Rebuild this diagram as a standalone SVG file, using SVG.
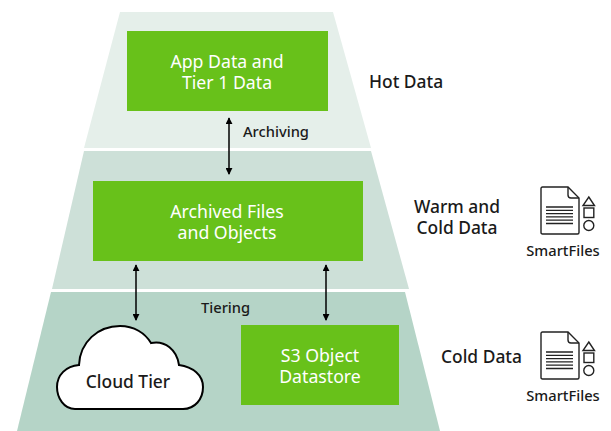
<svg xmlns="http://www.w3.org/2000/svg" width="611" height="431" viewBox="0 0 611 431">
<style>
text{font-family:"Noto Sans","Open Sans","Liberation Sans",sans-serif;fill:#1a1a1a;font-weight:500}
.b{font-size:17.400px}
.w{fill:#fff;font-size:17.700px;font-weight:400;text-anchor:middle}
.g{fill:#68c11a}
.s{font-size:14.700px}
.c{stroke:#000;stroke-width:1.5;fill:none;marker-start:url(#a);marker-end:url(#a)}
.i{fill:none;stroke:#222;stroke-width:1.4}
</style>
<defs>
<marker id="a" viewBox="0 0 8 8" refX="7" refY="4" markerWidth="7" markerHeight="7" markerUnits="userSpaceOnUse" orient="auto-start-reverse"><path d="M0 0L8 4L0 8Z" fill="#000"/></marker>
<g id="sf">
<path class="i" d="M0 1.500Q0 0 1.500 0H27L38 11V45.500Q38 47 36.500 47H1.500Q0 47 0 45.500Z"/>
<path class="i" d="M27 0V8Q27 11 30 11H38"/>
<path d="M5 20H32M5 23.300H32M5 26.600H32M5 29.900H32M5 33.200H32M5 36.500H32" stroke="#222" stroke-width="1.300" fill="none"/>
<path class="i" d="M47.800 10L53.500 18.500H42Z"/>
<rect class="i" x="43" y="21" width="9.800" height="9.500"/>
<circle class="i" cx="47.800" cy="38.500" r="5"/>
</g>
</defs>
<g id="tier-hot"><path d="M120 12H333L371 148H84Z" fill="#e5efea"/></g>
<g id="tier-warm"><path d="M84 151H371L409 289H52Z" fill="#cde0d8"/></g>
<g id="tier-cold"><path d="M51 292H405L440 431H17Z" fill="#b5d4c7"/></g>
<g id="connectors">
<path class="c" d="M229 118V174"/>
<path class="c" d="M136 265V320"/>
<path class="c" d="M326 265V320"/>
</g>
<g id="app-data"><rect class="g" x="127" y="31" width="201" height="80"/><text class="w" x="227" y="68">App Data and</text><text class="w" x="227" y="89">Tier 1 Data</text></g>
<g id="archived"><rect class="g" x="93" y="181" width="270" height="80"/><text class="w" x="227" y="218">Archived Files</text><text class="w" x="227" y="239">and Objects</text></g>
<g id="s3"><rect class="g" x="241" y="325" width="158" height="80"/><text class="w" x="320" y="362">S3 Object</text><text class="w" x="320" y="383">Datastore</text></g>
<g id="cloud"><path d="M75 409C64 409 57 398 57 387C57 375 66 366 79 365C80 342 98 326 120 326C134 326 145 333 151 343C165 340 177 350 179 365C193 367 203 375 203 387C203 399 195 409 183 409Z" fill="#fff" stroke="#000" stroke-width="2"/><text x="128" y="388" text-anchor="middle" class="b">Cloud Tier</text></g>
<g id="labels">
<text x="243" y="137" class="s">Archiving</text>
<text x="201" y="313" class="s">Tiering</text>
<text x="369" y="88" class="b">Hot Data</text>
<text x="457" y="213" text-anchor="middle" class="b">Warm and</text>
<text x="457" y="234" text-anchor="middle" class="b">Cold Data</text>
<text x="441" y="363" class="b">Cold Data</text>
</g>
<g id="smartfiles-1"><use href="#sf" x="541" y="187"/><text x="563" y="256" text-anchor="middle" class="s">SmartFiles</text></g>
<g id="smartfiles-2"><use href="#sf" x="541" y="332"/><text x="563" y="401" text-anchor="middle" class="s">SmartFiles</text></g>
</svg>
